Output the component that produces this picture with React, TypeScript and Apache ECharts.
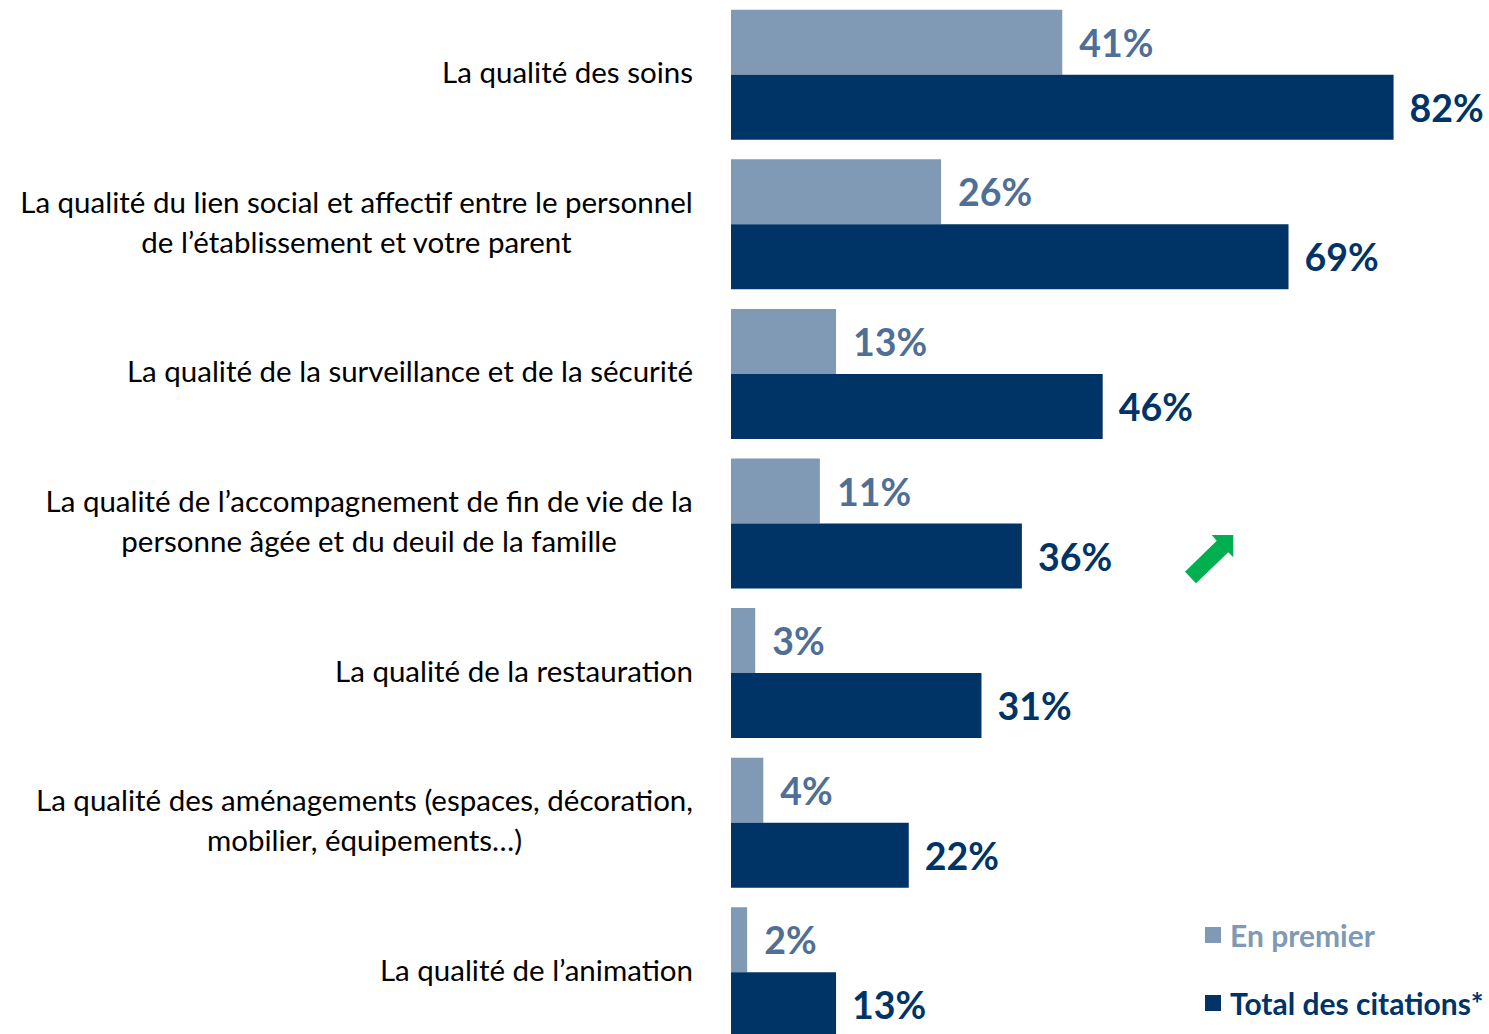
import React, { useEffect, useRef } from "react";
import * as echarts from "echarts";

const categories = [
  "La qualité des soins",
  "La qualité du lien social et affectif entre le personnel\nde l’établissement et votre parent",
  "La qualité de la surveillance et de la sécurité",
  "La qualité de l’accompagnement de fin de vie de la\npersonne âgée et du deuil de la famille",
  "La qualité de la restauration",
  "La qualité des aménagements (espaces, décoration,\nmobilier, équipements…)",
  "La qualité de l’animation",
];
const enPremier = [41, 26, 13, 11, 3, 4, 2];
const totalCitations = [82, 69, 46, 36, 31, 22, 13];
const seriesNames = ["En premier", "Total des citations*"];

const LIGHT = "#8099b4";
const LIGHT_LABEL = "#4f6f96";
const DARK = "#003366";
const FONT = "Lato";

export default function App() {
  const ref = useRef<HTMLDivElement>(null);
  useEffect(() => {
    if (!ref.current) return;
    const chart = echarts.init(ref.current, undefined, { renderer: "svg" });
    chart.setOption({
      animation: false,
      grid: { left: 731, top: -1, width: 808, height: 1048 },
      xAxis: { type: "value", min: 0, max: 100, show: false },
      yAxis: {
        type: "category",
        inverse: true,
        data: categories,
        axisLine: { show: false },
        axisTick: { show: false },
        axisLabel: {
          margin: 38,
          align: "right",
          fontFamily: FONT,
          fontSize: 29.5,
          color: "#000",
          padding: [0, 0, 6, 0],
          formatter: (v: string) => v.split("\n").map((l) => `{c|${l}}`).join("\n"),
          rich: {
            c: { align: "center", fontFamily: FONT, fontSize: 29.5, lineHeight: 40, color: "#000" },
          },
        },
      },
      legend: {
        orient: "vertical",
        left: 1205,
        top: 920,
        padding: 0,
        itemGap: 38,
        itemWidth: 16,
        itemHeight: 16,
        icon: "rect",
        textStyle: { fontFamily: FONT, fontSize: 30, fontWeight: "bold", padding: [0, 0, 0, 4] },
        data: [
          { name: seriesNames[0], textStyle: { color: LIGHT } },
          { name: seriesNames[1], textStyle: { color: DARK } },
        ],
      },
      series: [
        {
          name: seriesNames[0],
          type: "bar",
          data: enPremier,
          barWidth: 65,
          barGap: "0%",
          itemStyle: { color: LIGHT },
          label: {
            show: true,
            position: "right",
            distance: 17,
            formatter: "{c}%",
            fontFamily: FONT,
            fontSize: 37.5,
            fontWeight: "bold",
            color: LIGHT_LABEL,
          },
        },
        {
          name: seriesNames[1],
          type: "bar",
          data: totalCitations,
          barWidth: 65,
          barGap: "0%",
          itemStyle: { color: DARK },
          label: {
            show: true,
            position: "right",
            distance: 16,
            formatter: "{c}%",
            fontFamily: FONT,
            fontSize: 37.5,
            fontWeight: "bold",
            color: DARK,
          },
        },
      ],
      graphic: [
        {
          type: "polygon",
          shape: {
            points: [
              [1185, 571.7],
              [1216.7, 540.7],
              [1211.7, 535],
              [1233.3, 535],
              [1233.3, 557.3],
              [1228.3, 552.3],
              [1196, 583.3],
            ],
          },
          style: { fill: "#00b050" },
        },
      ],
    });
    return () => chart.dispose();
  }, []);
  return (
    <div
      ref={ref}
      style={{ position: "fixed", left: 0, top: 0, width: 1600, height: 1100, background: "#fff" }}
    />
  );
}
